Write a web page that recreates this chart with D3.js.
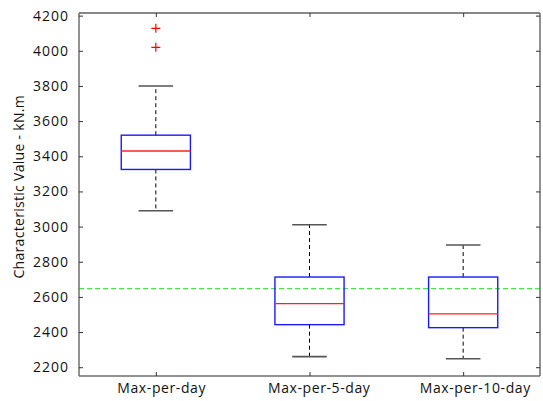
<!DOCTYPE html>
<html>
<head>
<meta charset="utf-8">
<script src="https://cdn.jsdelivr.net/npm/d3@7"></script>
<style>
    html, body { margin: 0; padding: 0; background: #fff; }
    svg text { font-family: "Open Sans", sans-serif; font-size: 14px; fill: #111; }
</style>
</head>
<body>
<svg id="chart" width="543" height="401"></svg>
<script>
// box statistics per group (kN.m)
const categories = ['Max-per-day', 'Max-per-5-day', 'Max-per-10-day'];
const whiskerHigh = [3800, 3010, 2895];
const q3 = [3520, 2713, 2713];
const medians = [3430, 2562, 2503];
const q1 = [3325, 2442, 2425];
const whiskerLow = [3090, 2260, 2248];
const outliers = [[4128, 4020], [], []];
const threshold = 2647;
const yTicks = [2200, 2400, 2600, 2800, 3000, 3200, 3400, 3600, 3800, 4000, 4200];

const plotLeft = 79, plotRight = 540, plotTop = 13, plotBottom = 376;
const boxWidth = 0.45,
    capWidth = 0.225;

const svg = d3.select('#chart');

const x = d3.scaleLinear()
    .domain([0.5, categories.length + 0.5])
    .range([plotLeft, plotRight]);

const y = d3.scaleLinear()
    .domain([2150, 4215])
    .range([plotBottom, plotTop]);

const groups = categories.map(function(c, i) {
    return {
        name: c,
        pos: i + 1,
        hi: whiskerHigh[i],
        q3: q3[i],
        med: medians[i],
        q1: q1[i],
        lo: whiskerLow[i],
        out: outliers[i]
    };
});

// threshold line
svg.append('line')
    .attr('x1', plotLeft).attr('x2', plotRight)
    .attr('y1', y(threshold)).attr('y2', y(threshold))
    .attr('stroke', '#3cf03c')
    .attr('stroke-width', 1.2)
    .attr('stroke-dasharray', '5,3');

const g = svg.selectAll('g.box')
    .data(groups)
    .enter().append('g')
    .attr('class', 'box');

// whiskers
g.append('line')
    .attr('x1', function(d) { return x(d.pos); })
    .attr('x2', function(d) { return x(d.pos); })
    .attr('y1', function(d) { return y(d.q3); })
    .attr('y2', function(d) { return y(d.hi); })
    .attr('stroke', '#000').attr('stroke-dasharray', '4,3');

g.append('line')
    .attr('x1', function(d) { return x(d.pos); })
    .attr('x2', function(d) { return x(d.pos); })
    .attr('y1', function(d) { return y(d.q1); })
    .attr('y2', function(d) { return y(d.lo); })
    .attr('stroke', '#000').attr('stroke-dasharray', '4,3');

// caps
['hi', 'lo'].forEach(function(k) {
    g.append('line')
        .attr('x1', function(d) { return x(d.pos - capWidth / 2); })
        .attr('x2', function(d) { return x(d.pos + capWidth / 2); })
        .attr('y1', function(d) { return y(d[k]); })
        .attr('y2', function(d) { return y(d[k]); })
        .attr('stroke', '#555').attr('stroke-width', 1.6);
});

// boxes
g.append('rect')
    .attr('x', function(d) { return x(d.pos - boxWidth / 2); })
    .attr('width', function(d) { return x(d.pos + boxWidth / 2) - x(d.pos - boxWidth / 2); })
    .attr('y', function(d) { return y(d.q3); })
    .attr('height', function(d) { return y(d.q1) - y(d.q3); })
    .attr('fill', 'none')
    .attr('stroke', '#1a1aff')
    .attr('stroke-width', 1.4);

// medians
g.append('line')
    .attr('x1', function(d) { return x(d.pos - boxWidth / 2); })
    .attr('x2', function(d) { return x(d.pos + boxWidth / 2); })
    .attr('y1', function(d) { return y(d.med); })
    .attr('y2', function(d) { return y(d.med); })
    .attr('stroke', '#ff2020').attr('stroke-width', 1.3);

// outliers as red crosses
g.selectAll('path.out')
    .data(function(d) { return d.out.map(function(v) { return { pos: d.pos, v: v }; }); })
    .enter().append('path')
    .attr('class', 'out')
    .attr('d', function(d) {
        const cx = x(d.pos), cy = y(d.v), s = 4.5;
        return 'M' + (cx - s) + ',' + cy + 'H' + (cx + s) + 'M' + cx + ',' + (cy - s) + 'V' + (cy + s);
    })
    .attr('stroke', '#ff0000').attr('stroke-width', 1.2);

// frame: top edge dark, others grey
svg.append('line').attr('x1', plotLeft).attr('x2', plotRight).attr('y1', plotTop).attr('y2', plotTop)
    .attr('stroke', '#111').attr('stroke-width', 1.2);
svg.append('line').attr('x1', plotLeft).attr('x2', plotRight).attr('y1', plotBottom).attr('y2', plotBottom)
    .attr('stroke', '#6e6e6e').attr('stroke-width', 1.5);
svg.append('line').attr('x1', plotLeft).attr('x2', plotLeft).attr('y1', plotTop).attr('y2', plotBottom)
    .attr('stroke', '#6e6e6e').attr('stroke-width', 1.5);
svg.append('line').attr('x1', plotRight).attr('x2', plotRight).attr('y1', plotTop).attr('y2', plotBottom)
    .attr('stroke', '#6e6e6e').attr('stroke-width', 1.5);

// y ticks, both sides pointing inward
const yAxisL = d3.axisLeft(y).tickValues(yTicks).tickFormat(d3.format('d')).tickSize(-4).tickPadding(10);
const yAxisR = d3.axisRight(y).tickValues(yTicks).tickSize(-4).tickFormat('');
const xAxisB = d3.axisBottom(x).tickValues(groups.map(function(d) { return d.pos; })).tickSize(-4).tickFormat('');
const xAxisT = d3.axisTop(x).tickValues(groups.map(function(d) { return d.pos; })).tickSize(-4).tickFormat('');

function styleAxis(sel) {
    sel.select('.domain').remove();
    sel.selectAll('.tick line').attr('stroke', '#333');
    sel.selectAll('text').attr('font-family', null).attr('font-size', null).attr('fill', '#111');
}

svg.append('g').attr('transform', 'translate(' + plotLeft + ',0)').call(yAxisL).call(styleAxis)
    .selectAll('text').style('letter-spacing', '1px');
svg.append('g').attr('transform', 'translate(' + plotRight + ',0)').call(yAxisR).call(styleAxis);
svg.append('g').attr('transform', 'translate(0,' + plotBottom + ')').call(xAxisB).call(styleAxis);
svg.append('g').attr('transform', 'translate(0,' + plotTop + ')').call(xAxisT).call(styleAxis);

// category labels
svg.selectAll('text.cat')
    .data(groups)
    .enter().append('text')
    .attr('class', 'cat')
    .style('letter-spacing', '0.6px')
    .attr('y', plotBottom + 16.5)
    .text(function(d) { return d.name; })
    .attr('x', function(d) {
        const len = this.getComputedTextLength();
        return x(d.pos) - 19 - 0.22 * len;
    });

// y label
svg.append('text')
    .attr('transform', 'translate(24,' + ((plotTop + plotBottom) / 2 + 84) + ') rotate(-90)')
    .style('letter-spacing', '0.3px')
    .text('Characteristic Value - kN.m');
</script>
</body>
</html>
